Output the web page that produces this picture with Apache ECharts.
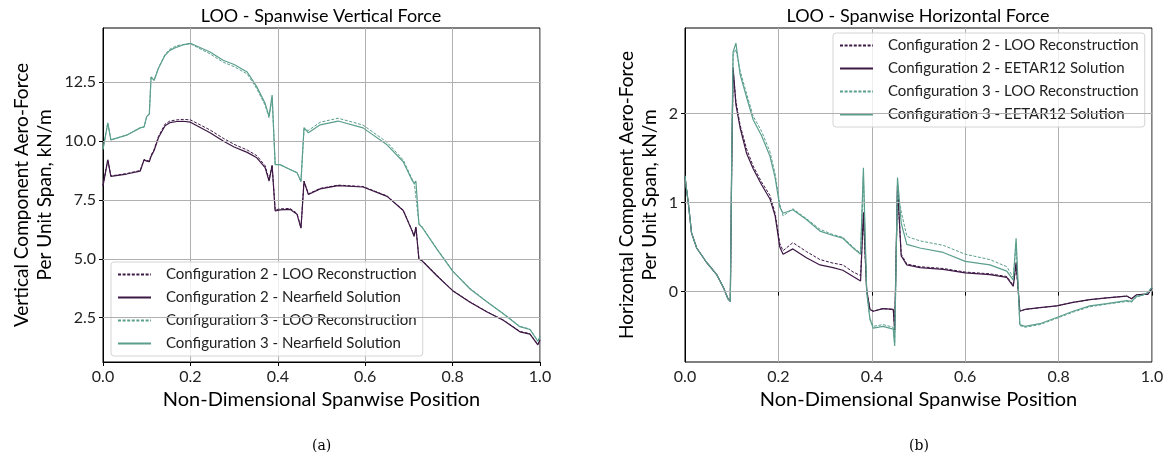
<!DOCTYPE html>
<html lang="en">
<head>
    <meta charset="UTF-8">
    <title>LOO - Spanwise Force</title>
    <script src="https://cdn.jsdelivr.net/npm/echarts@6/dist/echarts.min.js"></script>
    <style>
        html, body { margin: 0; padding: 0; background: #fff; }
        #container { width: 1173px; height: 462px; }
    </style>
</head>
<body>
<div id="container"></div>
<script>
    // ---- (a) vertical force, shared spanwise positions ----
    var vertX = [0.000, 0.011, 0.018, 0.054, 0.085, 0.094, 0.100, 0.106, 0.110, 0.117, 0.127, 0.142, 0.153,
        0.169, 0.183, 0.200, 0.245, 0.275, 0.300, 0.330, 0.352, 0.371, 0.380, 0.387, 0.394, 0.405, 0.428,
        0.444, 0.453, 0.460, 0.470, 0.497, 0.538, 0.595, 0.650, 0.687, 0.707, 0.712, 0.716, 0.723, 0.730,
        0.764, 0.800, 0.840, 0.879, 0.916, 0.954, 0.977, 0.995, 1.000];
    var vertLoo2 = [8.12, 9.22, 8.52, 8.62, 8.75, 9.22, 9.18, 9.15, 9.4, 9.65, 10.2, 10.72, 10.85,
        10.9, 10.92, 10.9, 10.47, 10.12, 9.86, 9.62, 9.38, 8.95, 8.36, 9.0, 7.08, 7.12, 7.14,
        6.93, 6.32, 8.3, 7.76, 7.99, 8.13, 8.07, 7.67, 7.07, 6.2, 5.98, 6.36, 5.0, 4.93,
        4.3, 3.66, 3.17, 2.75, 2.4, 1.92, 1.82, 1.37, 1.56];
    var vertSol2 = [8.1, 9.2, 8.5, 8.6, 8.72, 9.2, 9.15, 9.12, 9.35, 9.6, 10.15, 10.65, 10.78,
        10.83, 10.84, 10.8, 10.35, 10.0, 9.75, 9.52, 9.29, 8.87, 8.3, 8.95, 7.03, 7.08, 7.1,
        6.89, 6.3, 8.29, 7.73, 7.97, 8.11, 8.05, 7.65, 7.05, 6.2, 5.95, 6.35, 4.98, 4.92,
        4.28, 3.65, 3.16, 2.74, 2.39, 1.9, 1.8, 1.35, 1.55];
    var vertLoo3 = [9.65, 10.77, 10.05, 10.25, 10.56, 10.6, 11.05, 11.15, 12.72, 12.58, 13.12, 13.68, 13.9,
        14.05, 14.1, 14.13, 13.7, 13.35, 13.16, 12.85, 12.22, 11.52, 10.98, 11.85, 9.0, 9.0, 8.79,
        8.66, 8.28, 10.5, 10.45, 10.8, 10.97, 10.68, 9.95, 9.2, 8.4, 8.25, 8.33, 6.5, 6.37,
        5.43, 4.5, 3.74, 3.18, 2.68, 2.13, 2.02, 1.52, 1.7];
    var vertSol3 = [9.65, 10.77, 10.05, 10.25, 10.56, 10.6, 11.04, 11.15, 12.72, 12.58, 13.09, 13.64, 13.85,
        13.99, 14.08, 14.15, 13.78, 13.43, 13.25, 12.93, 12.3, 11.6, 11.05, 11.95, 9.0, 9.0, 8.79,
        8.66, 8.28, 10.57, 10.35, 10.69, 10.85, 10.56, 9.84, 9.12, 8.35, 8.2, 8.3, 6.47, 6.34,
        5.41, 4.48, 3.72, 3.17, 2.67, 2.12, 2.0, 1.5, 1.7];

    // ---- (b) horizontal force, shared spanwise positions ----
    var horzX = [0.000, 0.002, 0.007, 0.014, 0.025, 0.046, 0.068, 0.082, 0.092, 0.097, 0.100, 0.103, 0.109,
        0.118, 0.132, 0.146, 0.164, 0.182, 0.193, 0.203, 0.210, 0.231, 0.260, 0.289, 0.317, 0.338, 0.360,
        0.376, 0.382, 0.389, 0.396, 0.403, 0.424, 0.446, 0.449, 0.455, 0.463, 0.475, 0.503, 0.553, 0.600,
        0.653, 0.689, 0.703, 0.709, 0.717, 0.728, 0.760, 0.796, 0.831, 0.867, 0.903, 0.946, 0.956, 0.967,
        0.980, 0.991, 1.000];
    var horzLoo2 = [1.3, 1.2, 1.0, 0.66, 0.49, 0.33, 0.19, 0.05, -0.08, -0.11, 1.4, 2.48, 2.14,
        1.87, 1.6, 1.41, 1.23, 1.08, 0.88, 0.54, 0.46, 0.55, 0.45, 0.36, 0.32, 0.3, 0.22,
        0.18, 0.85, 0.02, -0.2, -0.22, -0.19, -0.2, -0.43, 1.15, 0.42, 0.31, 0.28, 0.26, 0.22,
        0.2, 0.17, 0.07, 0.3, -0.22, -0.2, -0.18, -0.16, -0.12, -0.09, -0.07, -0.05, -0.08, -0.035,
        -0.03, -0.03, 0.04];
    var horzSol2 = [1.3, 1.2, 1.0, 0.66, 0.49, 0.33, 0.19, 0.05, -0.08, -0.11, 1.4, 2.52, 2.1,
        1.84, 1.55, 1.38, 1.2, 1.04, 0.85, 0.5, 0.42, 0.48, 0.38, 0.3, 0.27, 0.24, 0.17,
        0.12, 0.89, 0.02, -0.2, -0.22, -0.19, -0.2, -0.43, 1.2, 0.4, 0.3, 0.27, 0.25, 0.21,
        0.19, 0.16, 0.06, 0.33, -0.22, -0.2, -0.18, -0.16, -0.12, -0.09, -0.07, -0.05, -0.08, -0.035,
        -0.03, -0.03, 0.04];
    var horzLoo3 = [1.3, 1.2, 1.0, 0.66, 0.49, 0.33, 0.19, 0.05, -0.08, -0.11, 1.5, 2.66, 2.72,
        2.48, 2.22, 1.97, 1.8, 1.57, 1.32, 0.98, 0.85, 0.93, 0.82, 0.7, 0.64, 0.61, 0.5,
        0.43, 1.3, 0.0, -0.3, -0.39, -0.37, -0.4, -0.58, 1.1, 0.9, 0.62, 0.57, 0.52, 0.42,
        0.36, 0.28, 0.16, 0.55, -0.38, -0.4, -0.37, -0.3, -0.23, -0.17, -0.14, -0.11, -0.12, -0.06,
        -0.04, -0.01, 0.05];
    var horzSol3 = [1.3, 1.2, 1.0, 0.66, 0.49, 0.33, 0.19, 0.05, -0.08, -0.11, 1.5, 2.69, 2.79,
        2.44, 2.18, 1.93, 1.75, 1.52, 1.28, 0.95, 0.88, 0.92, 0.81, 0.68, 0.63, 0.6, 0.49,
        0.42, 1.39, 0.0, -0.31, -0.41, -0.39, -0.42, -0.61, 1.28, 0.77, 0.53, 0.49, 0.44, 0.34,
        0.3, 0.23, 0.13, 0.6, -0.37, -0.39, -0.36, -0.29, -0.22, -0.16, -0.135, -0.1, -0.11, -0.05,
        -0.04, -0.01, 0.05];

    var vertTicks = [2.5, 5.0, 7.5, 10.0, 12.5];
    var horzTicks = [0, 1, 2];

    var namesA = ['Configuration 2 - LOO Reconstruction', 'Configuration 2 - Nearfield Solution',
        'Configuration 3 - LOO Reconstruction', 'Configuration 3 - Nearfield Solution'];
    var namesB = ['Configuration 2 - LOO Reconstruction', 'Configuration 2 - EETAR12 Solution',
        'Configuration 3 - LOO Reconstruction', 'Configuration 3 - EETAR12 Solution'];

    var purple = '#3d1845';
    var teal = '#5a9e8c';
    var font = 'Lato';

    function pairs(xs, ys) {
        return xs.map(function (x, i) { return [x, ys[i]]; });
    }

    function curve(name, idx, xs, ys, color, dashed) {
        return {
            name: name, type: 'line', xAxisIndex: idx, yAxisIndex: idx,
            data: pairs(xs, ys), symbol: 'none', z: 3, animation: false,
            lineStyle: { color: color, width: dashed ? 1 : 1.2, type: dashed ? [3, 1.6] : 'solid' },
            itemStyle: { color: color }
        };
    }

    // horizontal grid lines (the y axes have odd limits, so draw them as markLines)
    function gridLines(idx, ticks) {
        return {
            type: 'line', xAxisIndex: idx, yAxisIndex: idx, data: [], z: 1, silent: true, animation: false,
            markLine: {
                silent: true, symbol: 'none', animation: false, label: { show: false },
                lineStyle: { color: '#b0b0b0', width: 1, type: 'solid' },
                data: ticks.map(function (t) { return { yAxis: t }; })
            }
        };
    }

    function xAxis(idx) {
        return {
            type: 'value', gridIndex: idx, min: 0, max: 1, interval: 0.2,
            name: 'Non-Dimensional Spanwise Position', nameLocation: 'middle', nameGap: 28,
            nameTextStyle: { fontSize: 20, fontFamily: font, color: '#000' },
            axisLine: { lineStyle: { color: '#000' } },
            axisTick: { inside: false, length: 4, lineStyle: { color: '#000' } },
            axisLabel: { fontSize: 16, fontFamily: font, color: '#222', margin: 7,
                formatter: function (v) { return v.toFixed(1); } },
            splitLine: { show: true, lineStyle: { color: '#b0b0b0', width: 1 } }
        };
    }

    function yAxis(idx, min, max, ticks, name, gap, dec) {
        return {
            type: 'value', gridIndex: idx, min: min, max: max,
            name: name, nameLocation: 'middle', nameGap: gap, nameRotate: 90,
            nameTextStyle: { fontSize: 19, fontFamily: font, color: '#000', lineHeight: 23 },
            axisLine: { show: true, lineStyle: { color: '#000' } },
            axisTick: { show: true, length: 4, customValues: ticks, lineStyle: { color: '#000' } },
            axisLabel: { fontSize: 16, fontFamily: font, color: '#222', margin: 7, customValues: ticks,
                formatter: function (v) { return v.toFixed(dec); } },
            splitLine: { show: false }
        };
    }

    function legend(left, top, names) {
        return {
            orient: 'vertical', left: left, top: top, data: names,
            itemWidth: 33, itemHeight: 12, itemGap: 8,
            padding: [5, 6, 5, 6],
            itemStyle: { opacity: 0, borderWidth: 0 },
            backgroundColor: 'rgba(255,255,255,0.8)', borderColor: '#d4d4d4', borderWidth: 1, borderRadius: 3,
            textStyle: { fontSize: 15, lineHeight: 15, fontFamily: font, color: '#222', padding: [0, 0, 0, 10] },
            inactiveColor: '#ccc'
        };
    }

    var myChart = echarts.init(document.getElementById('container'));
    var option = {
        backgroundColor: '#fff',
        animation: false,
        title: [
            { text: 'LOO - Spanwise Vertical Force', left: 321, top: 7, textAlign: 'center', padding: 0,
                textStyle: { fontSize: 18, fontWeight: 'normal', fontFamily: font, color: '#000' } },
            { text: 'LOO - Spanwise Horizontal Force', left: 918, top: 7, textAlign: 'center', padding: 0,
                textStyle: { fontSize: 18, fontWeight: 'normal', fontFamily: font, color: '#000' } }
        ],
        grid: [
            { left: 103, top: 28, width: 437, height: 334, show: true, borderColor: '#000', borderWidth: 1,
                backgroundColor: 'transparent' },
            { left: 685, top: 28, width: 467, height: 334, show: true, borderColor: '#000', borderWidth: 1,
                backgroundColor: 'transparent' }
        ],
        xAxis: [xAxis(0), xAxis(1)],
        yAxis: [
            yAxis(0, 0.62, 14.8, vertTicks, 'Vertical Component Aero-Force\nPer Unit Span, kN/m', 47, 1),
            yAxis(1, -0.79, 2.96, horzTicks, 'Horizontal Component Aero-Force\nPer Unit Span, kN/m', 24, 0)
        ],
        legend: [legend(111, 262, namesA), legend(833, 33, namesB)],
        graphic: [
            { type: 'text', left: 312, top: 439, style: { text: '(a)', fontSize: 14, fontFamily: 'DejaVu Serif', fill: '#000' } },
            { type: 'text', left: 909, top: 439, style: { text: '(b)', fontSize: 14, fontFamily: 'DejaVu Serif', fill: '#000' } }
        ],
        series: [
            gridLines(0, vertTicks),
            gridLines(1, horzTicks),
            curve(namesA[0], 0, vertX, vertLoo2, purple, true),
            curve(namesA[1], 0, vertX, vertSol2, purple, false),
            curve(namesA[2], 0, vertX, vertLoo3, teal, true),
            curve(namesA[3], 0, vertX, vertSol3, teal, false),
            curve(namesB[0], 1, horzX, horzLoo2, purple, true),
            curve(namesB[1], 1, horzX, horzSol2, purple, false),
            curve(namesB[2], 1, horzX, horzLoo3, teal, true),
            curve(namesB[3], 1, horzX, horzSol3, teal, false)
        ]
    };

    if (option && typeof option === "object") {
        myChart.setOption(option, true);
    }
</script>
</body>
</html>
